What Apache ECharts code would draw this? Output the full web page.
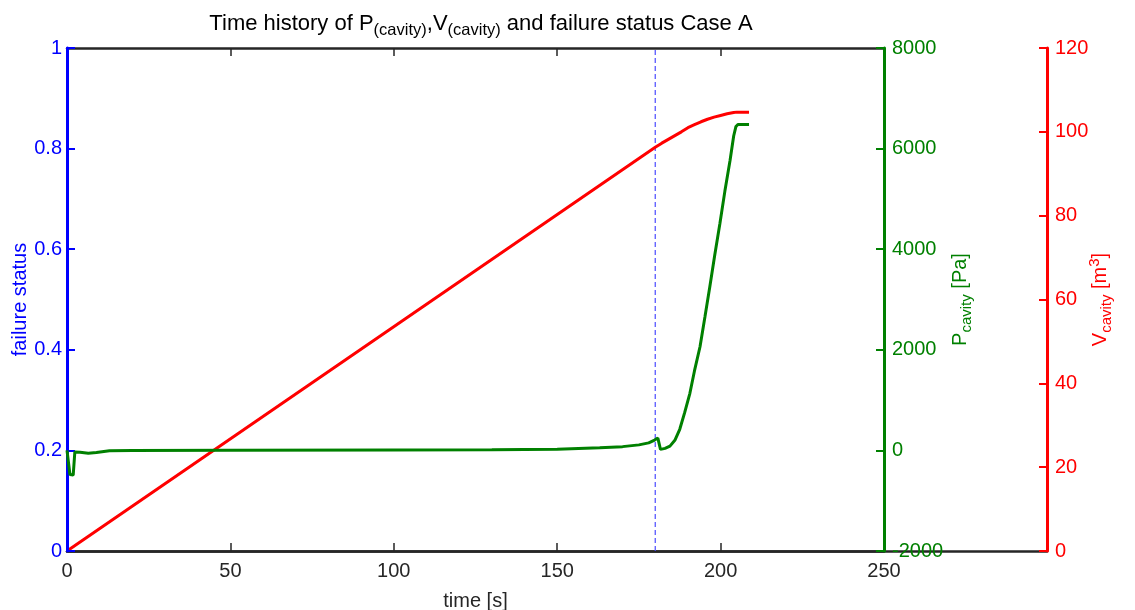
<!DOCTYPE html>
<html>
<head>
<meta charset="utf-8">
<script src="https://cdn.jsdelivr.net/npm/echarts@6/dist/echarts.min.js"></script>
<style>
  html, body { margin: 0; padding: 0; background: #ffffff; }
  #chart { width: 1135px; height: 610px; }
</style>
</head>
<body>
<div id="chart"></div>
<script>
// Cavity pressure history [s, Pa]
const timeP = [0, 0.6, 0.9, 1.9, 2.4, 4, 6.5, 9, 13, 20, 50, 100, 130, 150, 163, 170, 175, 178, 179.8, 180.8, 181.6, 183, 184.5, 186, 187.5, 189, 190.6, 192, 193.7, 195.2, 196.7, 198.2, 199.8, 201.3, 202.9, 204, 204.7, 205.3, 208.7];
const pressure = [0, -10, -480, -490, -30, -35, -55, -40, -5, 0, 5, 10, 12, 25, 55, 75, 110, 150, 205, 245, 20, 40, 85, 200, 420, 750, 1135, 1580, 2060, 2650, 3255, 3880, 4515, 5150, 5770, 6250, 6440, 6480, 6480];

// Cavity volume history [s, m^3]
const timeV = [0, 180, 182, 184, 186, 188, 190, 192, 194, 196, 198, 200, 202, 204, 205, 208.7];
const volume = [0, 96.3, 97.3, 98.2, 99.1, 100.0, 101.0, 101.7, 102.4, 103.0, 103.5, 103.9, 104.3, 104.6, 104.7, 104.7];

// Failure status switch time (vertical marker from 0 to 1)
const failureTime = [180, 180];
const failureStatus = [0, 1];

// Axis ranges and tick spacing
const timeRange = [0, 250, 50];
const statusRange = [0, 1, 0.2];
const pressureRange = [-2000, 8000, 2000];
const volumeRange = [0, 120, 20];

const zip = (a, b) => a.map((v, i) => [v, b[i]]);

const FONT = '"Liberation Sans", Arial, sans-serif';
const FS = 20;
const SUB = 15;
const BLACK = '#262626';
const BLUE = '#0000ff';
const GREEN = '#008000';
const RED = '#ff0000';

const chart = echarts.init(document.getElementById('chart'), null, { renderer: 'canvas' });

function yAxisStyle(color, margin, pad) {
  return {
    nameMoveOverlap: false,
    z: 3,
    axisLine: { show: true, onZero: false, lineStyle: { color: color, width: 3 } },
    axisTick: { show: true, inside: true, length: 8, lineStyle: { color: color, width: 2 } },
    axisLabel: {
      color: color, fontSize: FS, fontFamily: FONT, margin: margin,
      padding: pad || 0, formatter: v => String(v)
    },
    splitLine: { show: false }
  };
}

const option = {
  animation: false,
  backgroundColor: '#ffffff',
  title: {
    text: 'Time history of P{sub|(cavity)},V{sub|(cavity)} and failure status Case A',
    left: 476,
    top: 4,
    textAlign: 'center',
    textStyle: {
      fontFamily: FONT,
      fontSize: 22,
      fontWeight: 'normal',
      color: '#000000',
      rich: {
        sub: { fontSize: 16.5, fontFamily: FONT, color: '#000000', padding: [13, 0, 0, 0] }
      }
    }
  },
  grid: [
    { left: 67, right: 251, top: 48, bottom: 59, containLabel: false, outerBoundsMode: 'none' },
    { left: 67, right: 88, top: 48, bottom: 59, containLabel: false, outerBoundsMode: 'none' }
  ],
  xAxis: [
    {
      type: 'value', gridIndex: 0, position: 'bottom',
      min: timeRange[0], max: timeRange[1], interval: timeRange[2],
      name: 'time [s]', nameLocation: 'middle', nameGap: 40, nameMoveOverlap: false,
      nameTextStyle: { color: BLACK, fontSize: FS, fontFamily: FONT },
      axisLine: { show: true, onZero: false, lineStyle: { color: BLACK, width: 2.5 } },
      axisTick: { show: true, inside: true, length: 8, lineStyle: { color: BLACK, width: 1.5 } },
      axisLabel: { color: BLACK, fontSize: FS, fontFamily: FONT, margin: 10 },
      splitLine: { show: false }
    },
    {
      type: 'value', gridIndex: 0, position: 'top',
      min: timeRange[0], max: timeRange[1], interval: timeRange[2],
      axisLine: { show: true, onZero: false, lineStyle: { color: BLACK, width: 2.5 } },
      axisTick: { show: true, inside: true, length: 8, lineStyle: { color: BLACK, width: 1.5 } },
      axisLabel: { show: false },
      splitLine: { show: false }
    },
    {
      // baseline running under both right-hand axes
      type: 'value', gridIndex: 1, position: 'bottom',
      min: 0, max: 1,
      axisLine: { show: true, onZero: false, lineStyle: { color: BLACK, width: 2.5 } },
      axisTick: { show: false },
      axisLabel: { show: false },
      splitLine: { show: false },
      z: -1
    }
  ],
  yAxis: [
    Object.assign({
      type: 'value', gridIndex: 0, position: 'left',
      min: statusRange[0], max: statusRange[1], interval: statusRange[2],
      name: 'failure status', nameLocation: 'middle', nameRotate: 90, nameGap: 37,
      nameTextStyle: { color: BLUE, fontSize: FS, fontFamily: FONT }
    }, yAxisStyle(BLUE, 5)),
    Object.assign({
      type: 'value', gridIndex: 0, position: 'right',
      min: pressureRange[0], max: pressureRange[1], interval: pressureRange[2],
      name: 'P{sub|cavity} [Pa]', nameLocation: 'middle', nameRotate: 90, nameGap: 63,
      nameTextStyle: {
        color: GREEN, fontSize: FS, fontFamily: FONT,
        rich: { sub: { fontSize: SUB, color: GREEN, fontFamily: FONT, padding: [12, 0, 0, 0] } }
      }
    }, yAxisStyle(GREEN, 8, [4, 0, 0, 0])),
    Object.assign({
      type: 'value', gridIndex: 0, position: 'right', offset: 163,
      min: volumeRange[0], max: volumeRange[1], interval: volumeRange[2],
      name: 'V{sub|cavity} [m{sup|3}]', nameLocation: 'middle', nameRotate: 90, nameGap: 40,
      nameTextStyle: {
        color: RED, fontSize: FS, fontFamily: FONT,
        rich: {
          sub: { fontSize: SUB, color: RED, fontFamily: FONT, padding: [12, 0, 0, 0] },
          sup: { fontSize: SUB, color: RED, fontFamily: FONT, padding: [0, 0, 12, 0] }
        }
      }
    }, yAxisStyle(RED, 8)),
    {
      type: 'value', gridIndex: 1, min: 0, max: 1, show: false
    }
  ],
  series: [
    {
      name: 'failure status', type: 'line', xAxisIndex: 0, yAxisIndex: 0,
      data: zip(failureTime, failureStatus),
      showSymbol: false, silent: true,
      lineStyle: { color: '#4a4aff', width: 1.2, type: [5, 3] },
      z: 1
    },
    {
      name: 'P cavity', type: 'line', xAxisIndex: 0, yAxisIndex: 1,
      data: zip(timeP, pressure),
      showSymbol: false, smooth: false,
      lineStyle: { color: GREEN, width: 3 },
      z: 3
    },
    {
      name: 'V cavity', type: 'line', xAxisIndex: 0, yAxisIndex: 2,
      data: zip(timeV, volume),
      showSymbol: false, smooth: false,
      lineStyle: { color: RED, width: 3 },
      z: 2
    }
  ]
};

chart.setOption(option);
</script>
</body>
</html>
